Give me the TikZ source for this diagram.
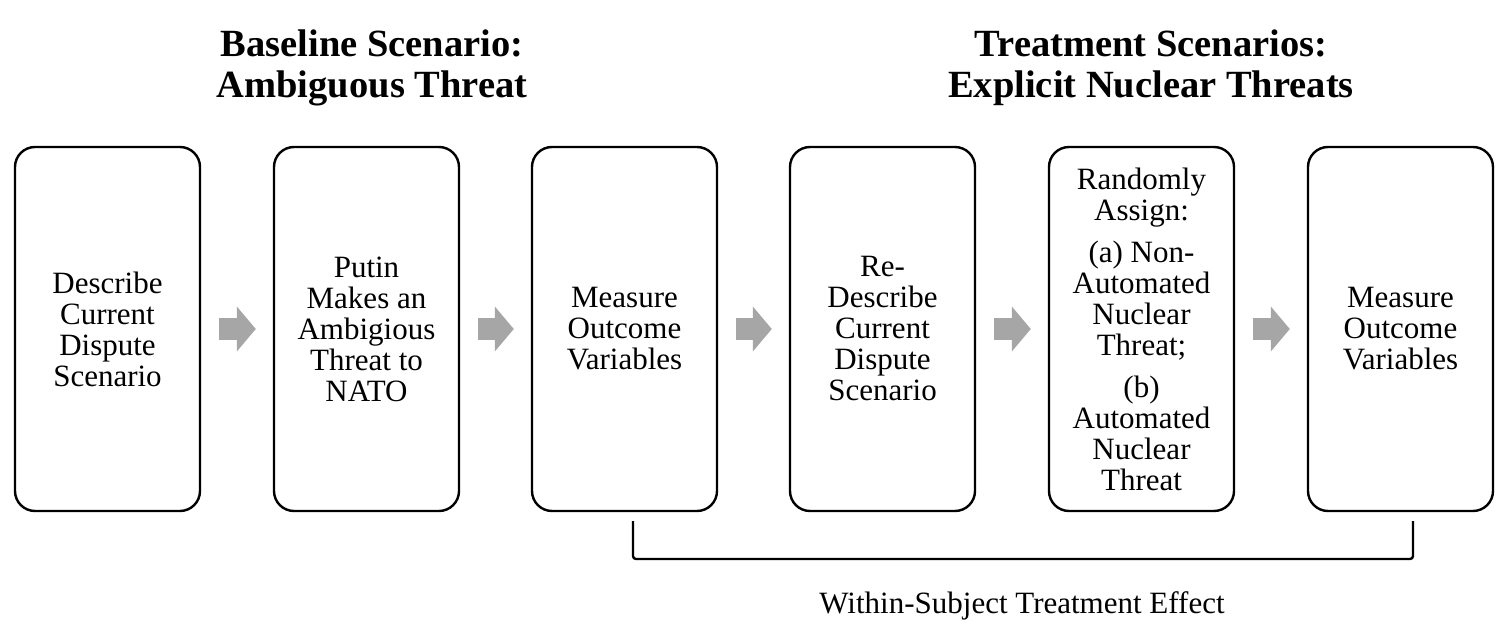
\documentclass[tikz,border=0pt]{standalone}
\usepackage{fontspec}
\setmainfont{Liberation Serif}
\usetikzlibrary{arrows.meta}
\definecolor{arrowgray}{HTML}{A6A6A6}
\begin{document}
\begin{tikzpicture}[x=1pt,y=-1pt,
  stepbox/.style={draw, line width=2.4pt, rounded corners=20pt, minimum width=185pt, minimum height=364pt, inner sep=0pt, align=center, font=\fontsize{31}{31}\selectfont},
  flowarrow/.style={arrowgray, line width=22pt, -{Triangle[length=19pt,width=44pt]}, shorten <=18pt, shorten >=17pt},
  titletext/.style={font=\fontsize{38.5}{41}\bfseries\selectfont, align=center},
  bracket/.style={line width=2.4pt, rounded corners=3pt},
  labeltext/.style={font=\fontsize{31}{31}\selectfont}]
\useasboundingbox (0,0) rectangle (1512,644);
\node[titletext] (t1) at (372,68) {Baseline Scenario:\\Ambiguous Threat};
\node[titletext] (t2) at (1151,68) {Treatment Scenarios:\\Explicit Nuclear Threats};
\node[stepbox] (b1) at (107.5,329) {Describe\\Current\\Dispute\\Scenario};
\node[stepbox] (b2) at (366.5,329) {Putin\\Makes an\\Ambigious\\Threat to\\NATO};
\node[stepbox] (b3) at (624.5,329) {Measure\\Outcome\\Variables};
\node[stepbox] (b4) at (882.5,329) {Re-\\Describe\\Current\\Dispute\\Scenario};
\node[stepbox] (b5) at (1141.5,329) {Randomly\\Assign:\\[11pt](a) Non-\\Automated\\Nuclear\\Threat;\\[11pt](b)\\Automated\\Nuclear\\Threat};
\node[stepbox] (b6) at (1400.5,329) {Measure\\Outcome\\Variables};
\draw[flowarrow] (b1.east) -- (b2.west);
\draw[flowarrow] (b2.east) -- (b3.west);
\draw[flowarrow] (b3.east) -- (b4.west);
\draw[flowarrow] (b4.east) -- (b5.west);
\draw[flowarrow] (b5.east) -- (b6.west);
\coordinate (brl) at (633,521);
\coordinate (brr) at (1413,521);
\draw[bracket] (brl) -- (633,559) -- (1413,559) -- (brr);
\node[labeltext] (lab) at (1022,606) {Within-Subject Treatment Effect};
\end{tikzpicture}
\end{document}
